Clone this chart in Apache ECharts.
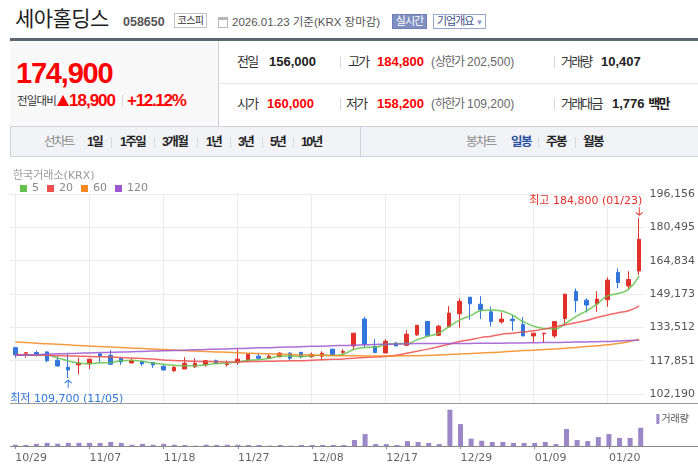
<!DOCTYPE html>
<html>
<head>
<meta charset="utf-8">
<script src="https://cdn.jsdelivr.net/npm/echarts@6.0.0/dist/echarts.min.js"></script>
<style>
  html, body { margin: 0; padding: 0; background: #fff; }
  #page { position: relative; width: 698px; height: 473px; overflow: hidden;
          font-family: "Liberation Sans", "Noto Sans CJK KR", sans-serif; color: #222; }
  .t { position: absolute; white-space: nowrap; line-height: 20px; height: 20px; }
  .b { font-weight: bold; }
  .red { color: #f00; }
  .lbl { font-size: 13px; letter-spacing: -1.8px; color: #333; }
  .val { font-size: 13px; font-weight: bold; color: #222; }
  .val.red { color: #f00; }
  .lim { font-size: 12px; color: #666; }
  .tab { font-size: 12.5px; font-weight: bold; letter-spacing: -1.6px; color: #222; }
  .sep { position: absolute; width: 1px; background: #d8d8d8; }
  #chart { position: absolute; left: 0; top: 160px; width: 698px; height: 313px; }
</style>
</head>
<body>
<div id="page">
  <!-- title row -->
  <div class="t" style="left:15px;top:9px;font-size:21px;letter-spacing:-0.6px;color:#1e1e1e">세아홀딩스</div>
  <div class="t b" style="left:123px;top:11.5px;font-size:12.5px;color:#555">058650</div>
  <div style="position:absolute;left:174px;top:13px;width:33px;height:15px;box-sizing:border-box;border:1px solid #c4c4c4;font-size:10px;line-height:13px;text-align:center;color:#333;letter-spacing:-0.5px">코스피</div>
  <div style="position:absolute;left:218px;top:17px;width:10px;height:11px;box-sizing:border-box;border:1px solid #b8b8b8;border-top-width:3px"></div>
  <div class="t" style="left:232px;top:11.5px;font-size:11.5px;color:#555">2026.01.23 기준(KRX 장마감)</div>
  <div style="position:absolute;left:392px;top:14px;width:35px;height:15px;box-sizing:border-box;background:#7e8fc0;border:1px solid #6f81b4;font-size:11px;line-height:13px;text-align:center;color:#fff;letter-spacing:-1px">실시간</div>
  <div style="position:absolute;left:433px;top:14px;width:53px;height:15px;box-sizing:border-box;border:1px solid #97a6cf;font-size:11px;line-height:13px;color:#3a4e86;letter-spacing:-1px;padding-left:3px">기업개요 <span style="color:#8a9ac8;font-size:8px;letter-spacing:0">▼</span></div>
  <div style="position:absolute;left:10px;top:38px;width:688px;height:3px;background:#5f6570"></div>

  <!-- price box -->
  <div style="position:absolute;left:10px;top:41px;width:208px;height:85px;background:#f9f9f9"></div>
  <div style="position:absolute;left:218px;top:41px;width:1px;height:85px;background:#d0d0d0"></div>
  <div class="t b red" style="left:16px;top:62.5px;font-size:29px;letter-spacing:-1.2px">174,900</div>
  <div class="t" style="left:17px;top:91px;font-size:11.5px;letter-spacing:-0.8px;color:#333">전일대비</div>
  <div style="position:absolute;left:57px;top:95px;width:0;height:0;border-left:6px solid transparent;border-right:6px solid transparent;border-bottom:11px solid #f00"></div>
  <div class="t b red" style="left:69px;top:91px;font-size:17px;letter-spacing:-1px">18,900</div>
  <div class="sep" style="left:122px;top:95px;height:12px"></div>
  <div class="t b red" style="left:127px;top:91px;font-size:17px;letter-spacing:-1.3px">+12.12%</div>

  <!-- info table -->
  <div style="position:absolute;left:218px;top:83px;width:480px;height:1px;background:#e6e6e6"></div>
  <div class="t lbl" style="left:237px;top:52px">전일</div>
  <div class="t val" style="left:269px;top:52px">156,000</div>
  <div class="sep" style="left:340px;top:56px;height:12px"></div>
  <div class="t lbl" style="left:348px;top:52px">고가</div>
  <div class="t val red" style="left:377px;top:52px">184,800</div>
  <div class="t lim" style="left:431px;top:52px">(<span style="letter-spacing:-1.5px">상한가</span> 202,500)</div>
  <div class="sep" style="left:554px;top:56px;height:12px"></div>
  <div class="t lbl" style="left:561px;top:52px">거래량</div>
  <div class="t val" style="left:601px;top:52px">10,407</div>

  <div class="t lbl" style="left:237px;top:94px">시가</div>
  <div class="t val red" style="left:267px;top:94px">160,000</div>
  <div class="sep" style="left:340px;top:98px;height:12px"></div>
  <div class="t lbl" style="left:346px;top:94px">저가</div>
  <div class="t val red" style="left:377px;top:94px">158,200</div>
  <div class="t lim" style="left:431px;top:94px">(<span style="letter-spacing:-1.5px">하한가</span> 109,200)</div>
  <div class="sep" style="left:554px;top:98px;height:12px"></div>
  <div class="t lbl" style="left:561px;top:94px">거래대금</div>
  <div class="t val" style="left:612px;top:94px">1,776 <span style="letter-spacing:-1.6px">백만</span></div>

  <!-- period tabs -->
  <div style="position:absolute;left:10px;top:126px;width:688px;height:31px;box-sizing:border-box;background:#f2f3f7;border:1px solid #cfd2d9;border-right:none"></div>
  <div style="position:absolute;left:360px;top:127px;width:1px;height:29px;background:#cfd2d9"></div>
  <div class="t tab" style="left:44px;top:132px;color:#888;font-weight:normal">선차트</div>
  <div class="t tab" style="left:87px;top:132px">1일</div>
  <div class="sep" style="left:111px;top:137px;height:11px"></div>
  <div class="t tab" style="left:120px;top:132px">1주일</div>
  <div class="sep" style="left:154px;top:137px;height:11px"></div>
  <div class="t tab" style="left:162px;top:132px">3개월</div>
  <div class="sep" style="left:197px;top:137px;height:11px"></div>
  <div class="t tab" style="left:206px;top:132px">1년</div>
  <div class="sep" style="left:230px;top:137px;height:11px"></div>
  <div class="t tab" style="left:238px;top:132px">3년</div>
  <div class="sep" style="left:262px;top:137px;height:11px"></div>
  <div class="t tab" style="left:270px;top:132px">5년</div>
  <div class="sep" style="left:293px;top:137px;height:11px"></div>
  <div class="t tab" style="left:301px;top:132px">10년</div>
  <div class="t tab" style="left:466px;top:132px;color:#888;font-weight:normal">봉차트</div>
  <div class="t tab" style="left:511px;top:132px;color:#2a4fa0">일봉</div>
  <div class="sep" style="left:538px;top:137px;height:11px"></div>
  <div class="t tab" style="left:546px;top:132px">주봉</div>
  <div class="sep" style="left:575px;top:137px;height:11px"></div>
  <div class="t tab" style="left:583px;top:132px">월봉</div>

  <div id="chart"></div>
</div>

<script>
// daily candles, 2025-10-29 .. 2026-01-23 (KRX 세아홀딩스)
const dates = [
  '10/29','10/30','10/31','11/03','11/04','11/05','11/06','11/07','11/10','11/11',
  '11/12','11/13','11/14','11/17','11/18','11/19','11/20','11/21','11/24','11/25',
  '11/26','11/27','11/28','12/01','12/02','12/03','12/04','12/05','12/08','12/09',
  '12/10','12/11','12/12','12/15','12/16','12/17','12/18','12/19','12/22','12/23',
  '12/24','12/26','12/29','12/30','01/02','01/05','01/06','01/07','01/08','01/09',
  '01/12','01/13','01/14','01/15','01/16','01/19','01/20','01/21','01/22','01/23'
];
const opens = [
  124000,121400,121700,122000,118100,114800,115900,116400,121100,120400,
  119000,116800,117500,117000,115300,113100,114000,115000,115900,117900,
  116000,117000,118100,120000,118900,119700,121400,121800,119700,120000,
  123300,121800,124800,137400,124500,121500,126100,125100,130000,136300,
  129800,133800,139900,147700,144400,140800,136100,137400,134900,129500,
  130500,129500,137700,150400,146300,144600,146500,159300,153000,160000
];
const closes = [
  120600,121600,120600,117800,115400,113500,116800,118600,120100,116200,
  117300,117900,116400,115900,113500,114800,116700,116700,117900,116500,
  116400,118600,120900,119000,120000,121400,119000,119700,120800,121400,
  120600,122200,130800,125600,121700,127000,124800,130300,134500,129800,
  134100,140200,145800,144600,141800,136300,137400,136600,129500,130800,
  130800,136300,149100,146000,144000,146800,155700,154600,156000,174900
];
const lows = [
  119300,119300,119800,117300,115000,109700,111500,113900,117000,115900,
  115900,116700,115400,114500,113400,112600,113900,114500,115100,116400,
  115100,115900,117300,119000,118700,119500,118100,119000,119300,118100,
  120600,120600,122900,124000,121700,121400,124800,124800,129500,129200,
  129500,133600,133300,137100,137400,133900,135300,131900,129500,126400,
  126400,128600,134200,140500,140500,140800,143200,151900,151500,158200
];
const highs = [
  124000,121700,122600,122300,120100,121100,119200,118600,121100,122800,
  119300,118900,117600,117100,115700,115300,119500,119000,118200,118400,
  117900,123600,120900,121200,120900,121800,122000,121900,121700,122300,
  123300,123300,130800,138500,128000,128000,126700,132200,134500,136300,
  134700,143500,147200,147700,148200,143300,140500,138900,138300,130800,
  130800,136300,149300,151800,147200,150500,157000,161200,159900,184800
];
const volumes = [
  700,600,1200,1800,1300,1800,1800,1800,1700,2300,
  1700,700,1200,700,1200,700,600,200,700,600,
  700,700,600,600,200,600,200,600,600,600,
  600,600,3400,6800,1100,1100,600,2800,2300,1700,
  1100,20700,12500,4200,3000,2300,2300,1700,1700,1700,
  2300,1100,9700,3400,2800,5100,6800,4600,4600,10407
];
const ma5 = [
  120600,120400,120400,120400,119200,117780,116820,116420,116880,117040,
  117800,118020,117580,116740,116200,115700,115460,115520,115920,116520,
  116840,117220,118060,118280,118980,119980,120060,119820,120180,120460,
  120300,120940,123160,124110,124170,125450,125980,125890,127680,129310,
  130720,133790,136900,138910,141290,141730,141160,139310,136300,134110,
  133010,132790,135300,138590,141230,144420,148310,149410,151510,157700
];
const ma20 = [
  120800,120700,120600,120400,120300,120100,120000,119800,119700,119600,
  119400,119100,118900,118700,118200,118000,117800,117600,117500,117400,
  117300,117300,117400,117500,117600,117700,117800,117900,118100,118300,
  118500,118700,119000,119400,119600,119800,120400,121400,122300,123300,
  124400,125600,126900,127700,128700,129400,130300,130800,131300,131900,
  132700,133800,134800,135700,136700,138200,139300,140400,141300,143600
];
const ma60 = [
  126700,126400,126100,125800,125600,125300,125000,124800,124500,124300,
  124100,123800,123600,123400,123100,122900,122600,122400,122200,122000,
  121800,121600,121400,121200,121100,120900,120800,120600,120500,120400,
  120300,120200,120200,120100,120100,120100,120100,120200,120200,120300,
  120500,120800,121000,121200,121500,121700,122000,122300,122600,122800,
  123100,123400,123700,124100,124500,124900,125300,125900,126800,128000
];
const ma120 = [
  120300,120500,120700,120900,121100,121200,121400,121500,121700,121800,
  121900,122100,122200,122400,122500,122600,122800,123000,123100,123300,
  123400,123600,123700,123900,124000,124200,124300,124400,124600,124700,
  124900,125000,125100,125300,125500,125600,125700,125800,125900,125900,
  125900,126000,126000,126000,126100,126100,126100,126200,126200,126300,
  126400,126400,126500,126600,126700,126800,126900,127100,127300,127500
];
const priceTicks = [102190, 117851, 133512, 149173, 164834, 180495, 196156];

const UP = '#e2302a';
const DOWN = '#3276dc';
const VOL = '#9b86c8';
const GRID = '#ebebeb';
const FONT = "'DejaVu Sans', 'Noto Sans CJK KR', sans-serif";

const fmt = v => String(v).replace(/\B(?=(\d{3})+(?!\d))/g, ',');
const every7 = i => i % 7 === 0;

const candles = dates.map((d, i) => [opens[i], closes[i], lows[i], highs[i]]);
const hiIdx = highs.indexOf(Math.max(...highs));
const loIdx = lows.indexOf(Math.min(...lows));

const chart = echarts.init(document.getElementById('chart'));

const maLine = (name, data, color) => ({
    name: name,
    type: 'line',
    data: data,
    smooth: true,
    showSymbol: false,
    silent: true,
    lineStyle: {width: 1.5, color: color, opacity: 0.85},
    itemStyle: {color: color},
    z: 3
});

chart.setOption({
    animation: false,
    textStyle: {fontFamily: FONT},
    title: {
        text: '한국거래소(KRX)', left: 8, top: 6,
        textStyle: {fontSize: 11, color: '#9a9a9a', fontWeight: 'normal', fontFamily: FONT}
    },
    legend: [{
        data: ['5', '20', '60', '120'],
        left: 15, top: 18,
        icon: 'rect', itemWidth: 7, itemHeight: 7, itemGap: 8,
        textStyle: {fontSize: 11, color: '#888'},
        selectedMode: false
    }, {
        data: ['거래량'],
        right: 4, top: 249,
        icon: 'rect', itemWidth: 3, itemHeight: 10, 
        textStyle: {fontSize: 10, color: '#555', padding: [0, 0, 0, -3]},
        selectedMode: false
    }],
    grid: [
        {left: 10, right: 52, top: 34, height: 209},
        {left: 10, right: 52, top: 246, height: 40}
    ],
    xAxis: [{
        type: 'category', gridIndex: 0, data: dates,
        axisLine: {show: false}, axisTick: {show: false}, axisLabel: {show: false},
        splitLine: {show: true, interval: every7, alignWithLabel: true, lineStyle: {color: GRID}}
    }, {
        type: 'category', gridIndex: 1, data: dates,
        axisLine: {show: false},
        axisTick: {show: true, interval: every7, alignWithLabel: true, length: 3, lineStyle: {color: '#888'}},
        axisLabel: {interval: every7, color: '#666', fontSize: 11, margin: 7, align: 'left'},
        splitLine: {show: false}
    }],
    yAxis: [{
        type: 'value', gridIndex: 0, position: 'right',
        min: 98000, max: 196156,
        axisLine: {show: false},
        axisTick: {show: false, customValues: priceTicks},
        axisLabel: {customValues: priceTicks, color: '#555', fontSize: 11, margin: 5, formatter: fmt},
        splitLine: {show: true, lineStyle: {color: GRID}}
    }, {
        type: 'value', gridIndex: 1, min: 0, max: 22800,
        axisLine: {show: false}, axisTick: {show: false}, axisLabel: {show: false},
        splitLine: {show: false}
    }],
    graphic: [
        {type: 'line', shape: {x1: 10, y1: 243.5, x2: 698, y2: 243.5}, style: {stroke: '#9a9a9a', lineWidth: 1}, z: 10},
        {type: 'line', shape: {x1: 10, y1: 286.5, x2: 698, y2: 286.5}, style: {stroke: '#888', lineWidth: 1}, z: 10}
    ],
    series: [{
        name: '일봉',
        type: 'candlestick',
        xAxisIndex: 0, yAxisIndex: 0,
        data: candles,
        barWidth: 4,
        silent: true,
        itemStyle: {color: UP, color0: DOWN, borderColor: UP, borderColor0: DOWN, borderWidth: 1},
        markPoint: {
            silent: true,
            data: [{
                coord: [hiIdx, highs[hiIdx]],
                symbol: 'path://M5,0 L5,14 M0,9 L5,14 L10,9',
                symbolSize: [7, 8], symbolOffset: [0, -7],
                itemStyle: {color: 'none', borderColor: UP, borderWidth: 1},
                label: {
                    show: true, position: 'top', align: 'right', offset: [3, 7],
                    formatter: '최고 ' + fmt(highs[hiIdx]) + ' (' + dates[hiIdx] + ')',
                    color: UP, fontSize: 11
                }
            }, {
                coord: [loIdx, lows[loIdx]],
                symbol: 'path://M5,14 L5,0 M0,5 L5,0 L10,5',
                symbolSize: [7, 8], symbolOffset: [0, 6],
                itemStyle: {color: 'none', borderColor: DOWN, borderWidth: 1},
                label: {
                    show: true, position: 'bottom', align: 'left', offset: [-58, -2],
                    formatter: '최저 ' + fmt(lows[loIdx]) + ' (' + dates[loIdx] + ')',
                    color: DOWN, fontSize: 11
                }
            }]
        }
    },
    maLine('5', ma5, '#62c24a'),
    maLine('20', ma20, '#ee4e4e'),
    maLine('60', ma60, '#f5891f'),
    maLine('120', ma120, '#9b57d1'),
    {
        name: '거래량',
        type: 'bar',
        xAxisIndex: 1, yAxisIndex: 1,
        data: volumes,
        barWidth: 5,
        silent: true,
        itemStyle: {color: VOL}
    }]
});
</script>
</body>
</html>
